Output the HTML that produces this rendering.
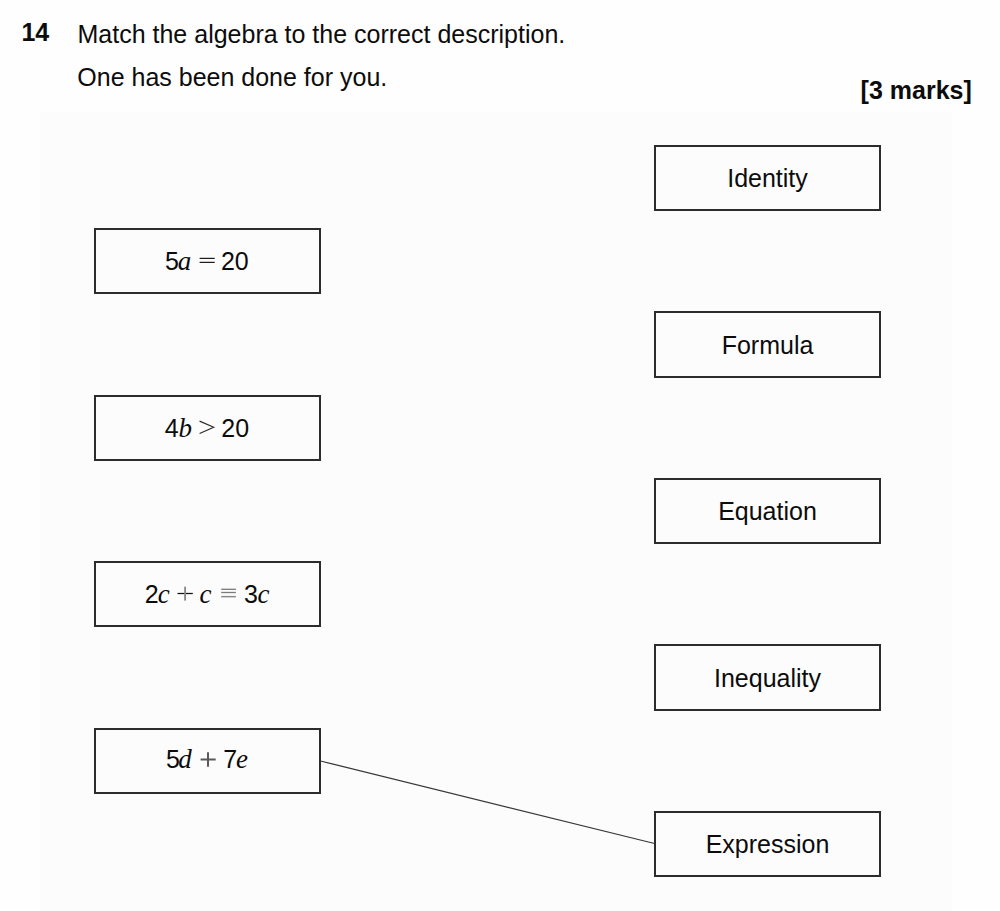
<!DOCTYPE html>
<html>
<head>
<meta charset="utf-8">
<style>
html,body{margin:0;padding:0;}
body{width:1000px;height:911px;position:relative;overflow:hidden;background:#fefefe;
  font-family:"Liberation Sans",sans-serif;color:#0c0c0c;}
.t{position:absolute;white-space:nowrap;font-size:25px;line-height:30px;height:30px;}
.b{font-weight:bold;}
.s{font-family:"Liberation Serif",serif;font-style:italic;font-size:27px;}
.box{position:absolute;width:227px;height:66px;box-sizing:border-box;border:2px solid #2c2c2c;}
.bg{position:absolute;left:40px;top:112px;width:912px;height:799px;background:#fcfcfc;}
.lbl{position:absolute;left:0;width:223px;text-align:center;font-size:25px;line-height:30px;height:30px;white-space:nowrap;}
svg{position:absolute;left:0;top:0;}
</style>
</head>
<body>
<div class="bg"></div>
<div class="t b" style="left:21.4px;top:17.3px">14</div>
<div class="t" style="left:77.5px;top:19.3px">Match the algebra to the correct description.</div>
<div class="t" style="left:77.3px;top:62.3px">One has been done for you.</div>
<div class="t b" style="left:860.6px;top:74.8px">[3 marks]</div>

<!-- right boxes -->
<div class="box" style="left:654px;top:145px"><div class="lbl" style="top:16.3px">Identity</div></div>
<div class="box" style="left:654px;top:311px;height:67px"><div class="lbl" style="top:16.8px">Formula</div></div>
<div class="box" style="left:654px;top:478px"><div class="lbl" style="top:16.3px">Equation</div></div>
<div class="box" style="left:654px;top:644px;height:67px"><div class="lbl" style="top:16.8px">Inequality</div></div>
<div class="box" style="left:654px;top:811px"><div class="lbl" style="top:16.3px">Expression</div></div>

<!-- left boxes -->
<div class="box" style="left:94px;top:228px"></div>
<div class="box" style="left:94px;top:395px"></div>
<div class="box" style="left:94px;top:561px"></div>
<div class="box" style="left:94px;top:728px"></div>

<!-- 5a = 20 -->
<div class="t" style="left:165px;top:245.8px">5</div>
<div class="t s" style="left:177.8px;top:245.8px">a</div>
<div class="t" style="left:220.9px;top:245.8px">20</div>
<!-- 4b > 20 -->
<div class="t" style="left:164.8px;top:412.8px">4</div>
<div class="t s" style="left:178.5px;top:412.8px">b</div>
<div class="t" style="left:221.3px;top:412.8px">20</div>
<!-- 2c + c = 3c -->
<div class="t" style="left:144.7px;top:579.1px">2</div>
<div class="t s" style="left:157.7px;top:579.1px">c</div>
<div class="t s" style="left:199.5px;top:579.1px">c</div>
<div class="t" style="left:244.05px;top:579.1px">3</div>
<div class="t s" style="left:257.4px;top:579.1px">c</div>
<!-- 5d + 7e -->
<div class="t" style="left:166.1px;top:744.4px">5</div>
<div class="t s" style="left:178.2px;top:744.4px">d</div>
<div class="t" style="left:223.3px;top:744.4px">7</div>
<div class="t s" style="left:236.1px;top:744.4px">e</div>

<svg width="1000" height="911" viewBox="0 0 1000 911">
  <g fill="none">
    <!-- = -->
    <line x1="199.6" y1="258.4" x2="214.7" y2="258.4" stroke="#1e1e1e" stroke-width="1.25"/>
    <line x1="199.6" y1="262.4" x2="214.7" y2="262.4" stroke="#1e1e1e" stroke-width="1.25"/>
    <!-- > -->
    <polyline points="199.6,421.1 213.7,427.2 199.6,433.5" stroke="#2a2a2a" stroke-width="1.15"/>
    <!-- + (2c + c) -->
    <line x1="177.5" y1="593.5" x2="192.8" y2="593.5" stroke="#111" stroke-width="1.25"/>
    <line x1="185.1" y1="586.7" x2="185.1" y2="600.6" stroke="#8a8a8a" stroke-width="1.9"/>
    <!-- + (5d + 7e) -->
    <line x1="200.6" y1="759.5" x2="215.7" y2="759.5" stroke="#5a5a5a" stroke-width="2"/>
    <line x1="208.0" y1="752.2" x2="208.0" y2="766.8" stroke="#5a5a5a" stroke-width="2"/>
    <!-- connecting line -->
    <line x1="320.5" y1="761" x2="654.5" y2="843.5" stroke="#383838" stroke-width="1.25"/>
    <!-- identical to -->
    <line x1="221.2" y1="589.3" x2="235.9" y2="589.3" stroke="#7a7a7a" stroke-width="1.3"/>
    <line x1="221.2" y1="592.5" x2="235.9" y2="592.5" stroke="#7a7a7a" stroke-width="1.3"/>
    <line x1="221.2" y1="596.65" x2="235.9" y2="596.65" stroke="#8a8a8a" stroke-width="1.5"/>
  </g>
</svg>
</body>
</html>
